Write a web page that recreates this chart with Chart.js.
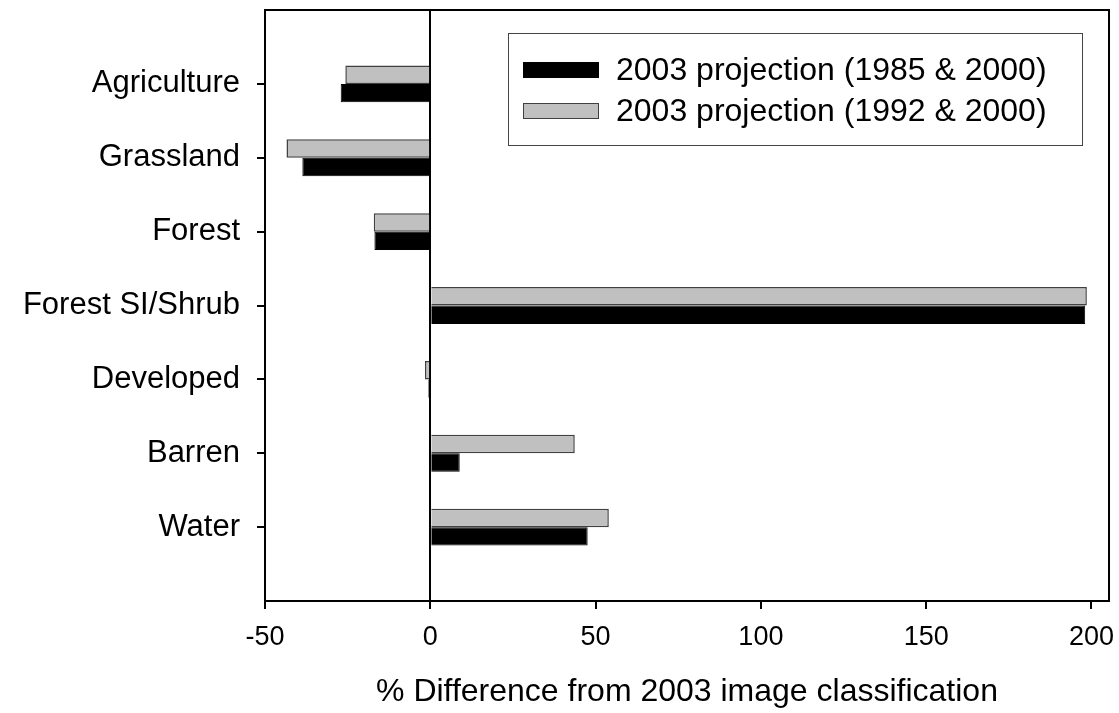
<!DOCTYPE html>
<html lang="en">
  <head>
    <meta charset="UTF-8" />
    <title>% Difference from 2003 image classification</title>
    <script src="https://cdn.jsdelivr.net/npm/chart.js"></script>
    <style>
      body { margin: 0; background: #fff; }
      #wrap { width: 1119px; height: 713px; position: relative; }
    </style>
  </head>
  <body>
    <div id="wrap"><canvas id="diffChart"></canvas></div>

    <script>
      // land cover classes, top to bottom
      const categories = ["Agriculture", "Grassland", "Forest", "Forest SI/Shrub", "Developed", "Barren", "Water"];
      // % difference, 2003 projection from 1985 & 2000
      const proj1985 = [-27.1, -38.7, -16.9, 198.1, -0.6, 8.9, 47.6];
      // % difference, 2003 projection from 1992 & 2000
      const proj1992 = [-25.7, -43.5, -17.1, 198.6, -1.6, 43.7, 54.0];
      const xTicks = [-50, 0, 50, 100, 150, 200];

      const FONT = "'Liberation Sans', Arial, sans-serif";

      // blank slot above and below so the classes sit one full step from the frame
      const labels = ["", ...categories, ""];
      const pad = (arr) => [null, ...arr, null];

      // legend lists the black series first
      const legendOrder = [1, 0];

      const frame = {
        id: "frame",
        afterDraw(chart) {
          const { ctx, chartArea: a } = chart;
          ctx.save();
          ctx.strokeStyle = "#000";
          ctx.lineWidth = 2;
          ctx.strokeRect(a.left, a.top, a.right - a.left, a.bottom - a.top);
          ctx.restore();
        },
      };

      const boxLegend = {
        id: "boxLegend",
        afterDraw(chart) {
          const { ctx, chartArea: a } = chart;
          const w = 574, h = 112;
          const x0 = a.right - 27 - w;
          const y0 = a.top + 23;
          ctx.save();
          ctx.fillStyle = "#fff";
          ctx.fillRect(x0, y0, w, h);
          ctx.strokeStyle = "#444";
          ctx.lineWidth = 1;
          ctx.strokeRect(x0 + 0.5, y0 + 0.5, w, h);
          legendOrder.forEach((idx, i) => {
            const ds = chart.data.datasets[idx];
            const cy = y0 + 37 + i * 41;
            ctx.fillStyle = ds.backgroundColor;
            ctx.fillRect(x0 + 15, cy - 8, 76, 16);
            ctx.strokeStyle = ds.borderColor;
            ctx.lineWidth = 1;
            ctx.strokeRect(x0 + 15.5, cy - 7.5, 75, 15);
            ctx.fillStyle = "#000";
            ctx.font = "32px " + FONT;
            ctx.textBaseline = "middle";
            ctx.fillText(ds.label, x0 + 108, cy + 1);
          });
          ctx.restore();
        },
      };

      new Chart(document.getElementById("diffChart"), {
        type: "bar",
        data: {
          labels: labels,
          datasets: [
            {
              label: "2003 projection (1992 & 2000)",
              data: pad(proj1992),
              backgroundColor: "#c0c0c0",
              borderColor: "#404040",
              borderWidth: 1.5,
            },
            {
              label: "2003 projection (1985 & 2000)",
              data: pad(proj1985),
              backgroundColor: "#000000",
              borderColor: "#000000",
              borderWidth: 1,
            },
          ],
        },
        options: {
          indexAxis: "y",
          responsive: true,
          maintainAspectRatio: false,
          animation: false,
          categoryPercentage: 0.5,
          barPercentage: 1,
          layout: { padding: { top: 10, right: 10, left: 0, bottom: 0 } },
          plugins: {
            legend: { display: false },
            tooltip: { enabled: false },
          },
          scales: {
            x: {
              min: -50,
              max: 205.3,
              afterBuildTicks: (s) => {
                s.ticks = xTicks.map((v) => ({ value: v }));
              },
              afterFit: (s) => {
                s.height = 112;
                s.paddingLeft = 0;
                s.paddingRight = 0;
              },
              border: { display: true, color: "#000", width: 2 },
              grid: {
                drawOnChartArea: true,
                color: (c) => (c.tick && c.tick.value === 0 ? "#000" : "rgba(0,0,0,0)"),
                tickColor: "#000",
                lineWidth: 2,
                tickLength: 8,
              },
              ticks: {
                color: "#000",
                padding: 12,
                font: { family: FONT, size: 27 },
              },
              title: {
                display: true,
                text: "% Difference from 2003 image classification",
                color: "#000",
                font: { family: FONT, size: 32 },
                padding: { top: 0, bottom: 2 },
              },
            },
            y: {
              offset: false,
              afterFit: (s) => {
                s.width = 265;
                s.paddingTop = 0;
                s.paddingBottom = 0;
              },
              border: { display: true, color: "#000", width: 2 },
              grid: {
                offset: false,
                drawOnChartArea: false,
                tickColor: (c) => (c.index === 0 || c.index === labels.length - 1 ? "rgba(0,0,0,0)" : "#000"),
                lineWidth: 2,
                tickLength: 8,
              },
              ticks: {
                color: "#000",
                padding: 17,
                autoSkip: false,
                font: { family: FONT, size: 31 },
              },
            },
          },
        },
        plugins: [frame, boxLegend],
      });
    </script>
  </body>
</html>
